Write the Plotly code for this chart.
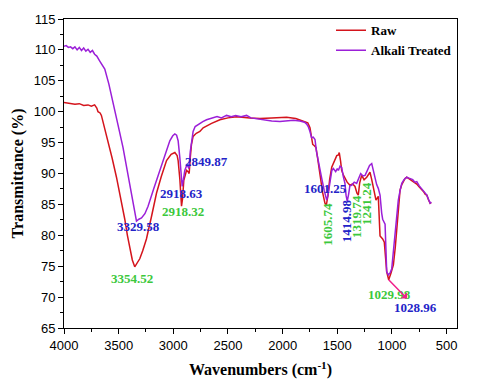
import plotly.graph_objects as go

raw_wn = [4000, 3950, 3900, 3860, 3820, 3780, 3750, 3720, 3700, 3689, 3670, 3658, 3630, 3597, 3560,
          3520, 3480, 3444, 3420, 3398, 3375, 3353, 3330, 3307, 3280, 3246, 3200, 3154, 3110, 3062,
          3020, 2986, 2965, 2956, 2940, 2925, 2915, 2904, 2890, 2879, 2865, 2855, 2845, 2834, 2819,
          2790, 2757, 2727, 2650, 2574, 2500, 2421, 2300, 2208, 2100, 1964, 1880, 1811, 1770, 1750,
          1735, 1725, 1710, 1695, 1680, 1658, 1635, 1613, 1600, 1585, 1570, 1551, 1530, 1505, 1490,
          1482, 1470, 1460, 1445, 1430, 1410, 1384, 1360, 1338, 1320, 1308, 1295, 1277, 1255, 1231,
          1215, 1201, 1185, 1170, 1146, 1125, 1109, 1085, 1070, 1048, 1030, 1010, 987, 970, 956,
          940, 926, 910, 896, 880, 865, 850, 834, 810, 790, 773, 750, 730, 712, 695, 681, 665, 651, 640]
raw_t = [101.5, 101.4, 101.2, 101.3, 101.0, 101.1, 100.9, 101.1, 100.6, 100.0, 99.8, 99.4, 97.5, 95.3, 92.5,
         89.4, 86.0, 82.6, 80.0, 77.8, 76.0, 74.9, 75.5, 76.2, 77.5, 79.4, 83.0, 86.8, 89.5, 92.1,
         93.1, 93.4, 92.9, 92.1, 89.0, 84.7, 86.0, 88.9, 89.8, 90.5, 90.3, 90.0, 92.5, 94.7, 96.0,
         96.5, 96.8, 97.4, 98.1, 98.7, 99.0, 99.2, 99.0, 98.9, 99.0, 99.1, 98.9, 98.5, 98.2, 97.4,
         96.0, 94.7, 94.5, 94.2, 92.5, 89.4, 87.0, 85.2, 84.9, 86.5, 89.0, 91.0, 91.8, 92.9, 93.0,
         93.4, 92.0, 90.5, 89.8, 89.2, 88.6, 88.1, 88.3, 87.9, 86.8, 86.5, 88.5, 89.7, 89.0, 89.4,
         89.8, 90.2, 89.0, 87.9, 85.7, 86.3, 79.9, 79.4, 78.9, 74.1, 72.8, 73.8, 75.2, 78.0, 81.0,
         84.5, 87.3, 88.2, 88.7, 89.2, 89.4, 89.2, 89.0, 88.8, 88.4, 88.3, 87.8, 87.5, 87.1, 86.6, 86.5, 85.7, 85.2, 85.3]

alk_wn = [4000, 3980, 3960, 3940, 3920, 3900, 3880, 3860, 3840, 3820, 3800, 3780, 3760, 3740, 3720,
          3700, 3673, 3650, 3627, 3590, 3551, 3505, 3460, 3420, 3383, 3360, 3337, 3315, 3291, 3260,
          3231, 3180, 3124, 3080, 3032, 3005, 2986, 2970, 2956, 2940, 2928, 2919, 2908, 2895, 2880,
          2870, 2860, 2855, 2845, 2834, 2819, 2800, 2770, 2730, 2696, 2650, 2600, 2560, 2513, 2470,
          2430, 2380, 2330, 2290, 2250, 2208, 2150, 2100, 2025, 1950, 1900, 1842, 1800, 1780, 1766,
          1750, 1735, 1720, 1704, 1690, 1675, 1658, 1640, 1620, 1605, 1597, 1585, 1565, 1550, 1536,
          1515, 1500, 1490, 1475, 1460, 1445, 1430, 1420, 1409, 1395, 1385, 1369, 1345, 1323, 1305,
          1286, 1265, 1246, 1225, 1205, 1185, 1170, 1155, 1140, 1125, 1109, 1094, 1085, 1063, 1048,
          1033, 1015, 1002, 987, 972, 956, 942, 925, 910, 890, 865, 850, 834, 810, 790, 773, 750,
          730, 712, 695, 681, 665, 651, 640]
alk_t = [110.6, 110.7, 110.4, 110.5, 110.2, 110.5, 110.0, 110.4, 109.9, 110.3, 109.8, 110.1, 109.6, 109.9, 109.3,
         109.0, 108.2, 107.6, 106.9, 104.5, 101.6, 97.8, 94.2, 90.4, 86.8, 84.2, 82.3, 82.6, 82.8, 83.5,
         84.7, 87.5, 90.5, 93.0, 95.3, 96.1, 96.4, 96.2, 95.3, 92.5, 89.0, 87.9, 89.0, 90.5, 91.2,
         91.3, 90.9, 91.0, 93.5, 95.3, 96.8, 97.6, 98.0, 98.4, 98.7, 98.9, 99.2, 99.0, 99.4, 99.2,
         99.4, 99.2, 99.4, 99.0, 98.9, 98.7, 98.6, 98.5, 98.4, 98.5, 98.6, 98.5, 98.3, 98.0, 97.6,
         96.8, 95.8, 95.9, 95.5, 93.5, 92.0, 90.5, 89.0, 87.3, 86.0, 85.7, 86.5, 89.0, 90.5, 90.8,
         90.3, 90.8, 90.5, 91.2, 91.0, 89.5, 88.4, 86.5, 85.5, 86.8, 88.0, 88.1, 88.6, 88.4, 89.2,
         90.0, 89.6, 89.7, 90.5, 91.3, 91.6, 90.3, 88.9, 88.2, 87.6, 86.5, 83.6, 82.6, 81.8, 74.1,
         73.6, 74.0, 74.6, 77.5, 80.4, 83.2, 85.7, 87.3, 88.4, 89.0, 89.4, 89.3, 89.2, 89.0, 88.6, 88.7, 88.0,
         87.6, 87.3, 86.8, 86.5, 85.8, 85.2, 85.4]

series_names = ["Raw", "Alkali Treated"]
series_colors = ["#D4141C", "#9B1FD8"]

# peak labels: text, wavenumber, transmittance, color, angle
peak_text = ["2849.87", "2918.63", "2918.32", "3329.58", "3354.52", "1601.25",
             "1605.74", "1414.98", "1319.74", "1241.24", "1029.98"]
peak_x = [2693, 2922, 2910, 3322, 3377, 1604, 1597, 1420, 1330, 1238, 1018]
peak_y = [92.0, 86.8, 83.9, 81.5, 73.0, 87.5, 81.8, 82.3, 83.1, 85.2, 70.5]
peak_col = ["#2323C8", "#2323C8", "#3CC83C", "#2323C8", "#3CC83C", "#2323C8",
            "#3CC83C", "#2323C8", "#3CC83C", "#3CC83C", "#3CC83C"]
peak_ang = [0, 0, 0, 0, 0, 0, -90, -90, -90, -90, 0]

# label joined to the raw-curve minimum by a pink arrow
arrow_label = "1028.96"
arrow_label_x, arrow_label_y = 782, 68.3
arrow_target_x, arrow_target_y = 1030, 72.8

x_ticks = [4000, 3500, 3000, 2500, 2000, 1500, 1000, 500]
y_ticks = [65, 70, 75, 80, 85, 90, 95, 100, 105, 110, 115]

serif = "Liberation Serif, Times New Roman, serif"
sans = "Liberation Sans, Arial, sans-serif"

fig = go.Figure()
fig.add_trace(go.Scatter(x=raw_wn, y=raw_t, mode="lines", name="<b>%s</b>" % series_names[0],
                         line=dict(color=series_colors[0], width=1.5)))
fig.add_trace(go.Scatter(x=alk_wn, y=alk_t, mode="lines", name="<b>%s</b>" % series_names[1],
                         line=dict(color=series_colors[1], width=1.5)))

for t, x, y, c, a in zip(peak_text, peak_x, peak_y, peak_col, peak_ang):
    fig.add_annotation(x=x, y=y, text="<b>%s</b>" % t, showarrow=False, textangle=a,
                       font=dict(family=serif, size=13, color=c))

fig.add_annotation(x=arrow_target_x, y=arrow_target_y, ax=arrow_label_x, ay=arrow_label_y,
                   axref="x", ayref="y", xref="x", yref="y",
                   text="<b>%s</b>" % arrow_label, showarrow=True, arrowhead=2, arrowside="start",
                   arrowsize=1, arrowwidth=1.5, arrowcolor="#F0208C", standoff=0, startstandoff=0,
                   font=dict(family=serif, size=13, color="#2323C8"))

fig.update_layout(
    width=472, height=381,
    margin=dict(l=56, r=23, t=4, b=61),
    paper_bgcolor="white", plot_bgcolor="white",
    showlegend=True,
    legend=dict(x=1.0, y=1.012, xanchor="right", yanchor="top", bgcolor="rgba(0,0,0,0)",
                font=dict(family=serif, size=13, color="black"), tracegroupgap=0,
                itemwidth=30),
    font=dict(family=sans, size=13, color="black"),
)

fig.update_xaxes(range=[4000, 405], tickvals=x_ticks, ticks="outside", ticklen=5,
                 tickwidth=1, tickcolor="black", showgrid=False, zeroline=False,
                 showline=True, linecolor="black", linewidth=1, mirror=True,
                 minor=dict(dtick=250, tick0=500, ticks="outside", ticklen=3, tickcolor="black"),
                 tickfont=dict(family=sans, size=13),
                 title=dict(text="<b>Wavenumbers (cm<sup>-1</sup>)</b>",
                            font=dict(family=serif, size=16), standoff=12))
fig.update_yaxes(range=[65, 115], tickvals=y_ticks, ticks="outside", ticklen=5,
                 tickwidth=1, tickcolor="black", showgrid=False, zeroline=False,
                 showline=True, linecolor="black", linewidth=1, mirror=True,
                 minor=dict(dtick=2.5, tick0=65, ticks="outside", ticklen=3, tickcolor="black"),
                 tickfont=dict(family=sans, size=13),
                 title=dict(text="<b>Transmittance (%)</b>",
                            font=dict(family=serif, size=16), standoff=6))

fig.write_html("out.html")
